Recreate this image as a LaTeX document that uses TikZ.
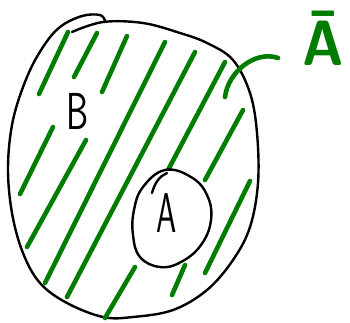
\documentclass[tikz,border=0pt]{standalone}
\usepackage{fontspec}
\usepackage{xcolor}
\usepackage{tikz}
\usetikzlibrary{calc}
\definecolor{hatchgreen}{RGB}{0,125,0}

\begin{document}
\begin{tikzpicture}[x=1pt, y=-1pt,
  outline/.style={draw=black, line width=2.4pt, line cap=round, line join=round},
  hatch/.style={draw=hatchgreen, line width=4.6pt, line cap=round},
  hand/.style={font=\sffamily\fontsize{52}{52}\selectfont, inner sep=0pt, xscale=0.68}]
  \useasboundingbox (0,0) rectangle (350,322);
  % big region B
  \draw[outline] plot[smooth, tension=0.6] coordinates {(72,32) (103,22) (143,23) (180,33) (207,43) (233,60) (250,93)
    (257,133) (258,183) (250,227) (233,260) (207,290) (173,310) (133,317) (103,317) (67,303) (40,283)
    (23,253) (12,213) (8,167) (13,120) (27,77) (43,47) (60,27) (82,16) (100,15) (105,21)};
  % hatching of the complement
  \foreach \xa/\ya/\xb/\yb in {68/32/39/94, 97/33/74/77, 127/36/102/92, 165/42/45/283,
      195/52/67/297, 225/62/167/172, 53/127/20/194, 86/140/27/247,
      135/267/105/318, 243/110/205/180, 250/181/205/273, 185/265/172/295}
    \draw[hatch] (\xa,\ya) -- (\xb,\yb);
  % small region A
  \draw[outline, fill=white] plot[smooth cycle, tension=0.7] coordinates {(165,170) (191,177) (207,195) (211,220)
    (201,245) (181,262) (160,267) (140,257) (133,235) (134,210) (143,187)};
  \draw[outline] (152,193) .. controls (155,182) and (160,176) .. (167,173);
  \node[hand] (lblB) at (78,111) {B};
  \node[hand, font=\sffamily\fontsize{56}{56}\selectfont, xscale=0.85] (lblA) at (167,213) {A};
  \node[hand, text=hatchgreen, font=\sffamily\bfseries\fontsize{64}{64}\selectfont, xscale=1.3] (abar) at (323,38) {Ā};
  \coordinate (tip) at (225,97);
  \draw[hatch] ([shift={(-24,20)}]abar.west) .. controls (255,50) and (228,72) .. (tip);
\end{tikzpicture}
\end{document}
